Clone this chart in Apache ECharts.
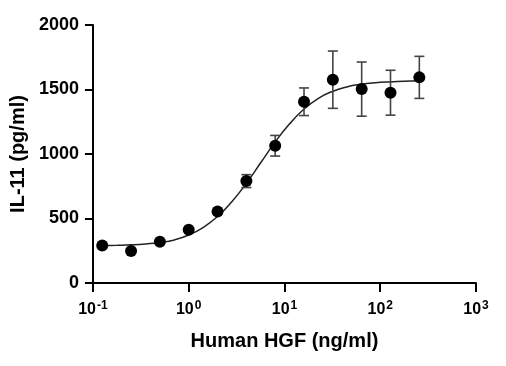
<!DOCTYPE html>
<html>
<head>
<meta charset="utf-8">
<script src="https://cdn.jsdelivr.net/npm/echarts@6/dist/echarts.min.js"></script>
<style>
html,body{margin:0;padding:0;background:#fff;}
#c{width:506px;height:366px;}
</style>
</head>
<body>
<div id="c"></div>
<script>
// Measured data (Human HGF ng/ml vs IL-11 pg/ml)
const doses = [0.125, 0.25, 0.5, 1, 2, 4, 8, 16, 32, 64, 128, 256];
const means = [290, 248, 320, 413, 555, 790, 1064, 1405, 1576, 1503, 1475, 1594];
const errors = [0, 0, 0, 0, 0, 50, 80, 107, 222, 210, 174, 163];
// Fitted curve
const curveX = [0.126, 0.178, 0.251, 0.355, 0.501, 0.708, 1, 1.41, 2, 2.82, 3.98, 5.62, 7.94, 11.2, 15.8, 22.4, 31.6, 44.7, 63.1, 89.1, 126, 178, 251];
const curveY = [289, 292, 296, 303, 314, 334, 372, 430, 515, 630, 770, 930, 1090, 1230, 1345, 1430, 1485, 1520, 1540, 1552, 1559, 1564, 1567];
const yTicks = [0, 500, 1000, 1500, 2000];
const xTicks = [0.1, 1, 10, 100, 1000];

const FONT = '"Liberation Sans", Arial, sans-serif';
const chart = echarts.init(document.getElementById('c'), null, {renderer: 'canvas'});

const errData = doses.map((d, i) => [d, means[i] - errors[i], means[i] + errors[i]]).filter((r, i) => errors[i] > 0);

chart.setOption({
  animation: false,
  backgroundColor: '#fff',
  grid: {left: 92, right: 30, top: 25, bottom: 83, containLabel: false},
  xAxis: {
    type: 'log', logBase: 10, min: xTicks[0], max: xTicks[xTicks.length - 1],
    name: 'Human HGF (ng/ml)', nameLocation: 'middle', nameGap: 48,
    nameTextStyle: {fontFamily: FONT, fontWeight: 'bold', fontSize: 20, color: '#000'},
    axisLine: {onZero: false, lineStyle: {color: '#000', width: 2}},
    axisTick: {show: true, length: 9, lineStyle: {color: '#000', width: 2}},
    minorTick: {show: false},
    splitLine: {show: false},
    axisLabel: {
      margin: 17,
      formatter: function (v) {
        const e = Math.round(Math.log10(v));
        return '{b|10}{s|' + (e < 0 ? '-' + Math.abs(e) : e) + '}';
      },
      rich: {
        b: {fontFamily: FONT, fontWeight: 'bold', fontSize: 16, color: '#000'},
        s: {fontFamily: FONT, fontWeight: 'bold', fontSize: 12, color: '#000', verticalAlign: 'top', padding: [0, 0, 7, 1]}
      }
    }
  },
  yAxis: {
    type: 'value', min: yTicks[0], max: yTicks[yTicks.length - 1], interval: 500,
    name: 'IL-11 (pg/ml)', nameLocation: 'middle', nameGap: 57,
    nameTextStyle: {fontFamily: FONT, fontWeight: 'bold', fontSize: 20, color: '#000'},
    axisLine: {show: true, lineStyle: {color: '#000', width: 2}},
    axisTick: {show: true, length: 8, lineStyle: {color: '#000', width: 2}},
    splitLine: {show: false},
    axisLabel: {margin: 14, fontFamily: FONT, fontWeight: 'bold', fontSize: 18, color: '#000',
      formatter: function (v) { return String(v); }}
  },
  series: [
    {
      type: 'line', data: curveX.map((x, i) => [x, curveY[i]]), smooth: true, showSymbol: false,
      lineStyle: {color: '#222', width: 1.5}, z: 2
    },
    {
      type: 'custom', data: errData, z: 3,
      renderItem: function (params, api) {
        const top = api.coord([api.value(0), api.value(2)]);
        const bot = api.coord([api.value(0), api.value(1)]);
        const w = 5;
        const st = {stroke: '#444', lineWidth: 1.6};
        return {type: 'group', children: [
          {type: 'line', shape: {x1: top[0], y1: top[1], x2: bot[0], y2: bot[1]}, style: st},
          {type: 'line', shape: {x1: top[0] - w, y1: top[1], x2: top[0] + w, y2: top[1]}, style: st},
          {type: 'line', shape: {x1: bot[0] - w, y1: bot[1], x2: bot[0] + w, y2: bot[1]}, style: st}
        ]};
      }
    },
    {
      type: 'scatter', data: doses.map((d, i) => [d, means[i]]), symbol: 'circle', symbolSize: 12,
      itemStyle: {color: '#000', opacity: 1}, z: 4
    }
  ]
});
</script>
</body>
</html>
